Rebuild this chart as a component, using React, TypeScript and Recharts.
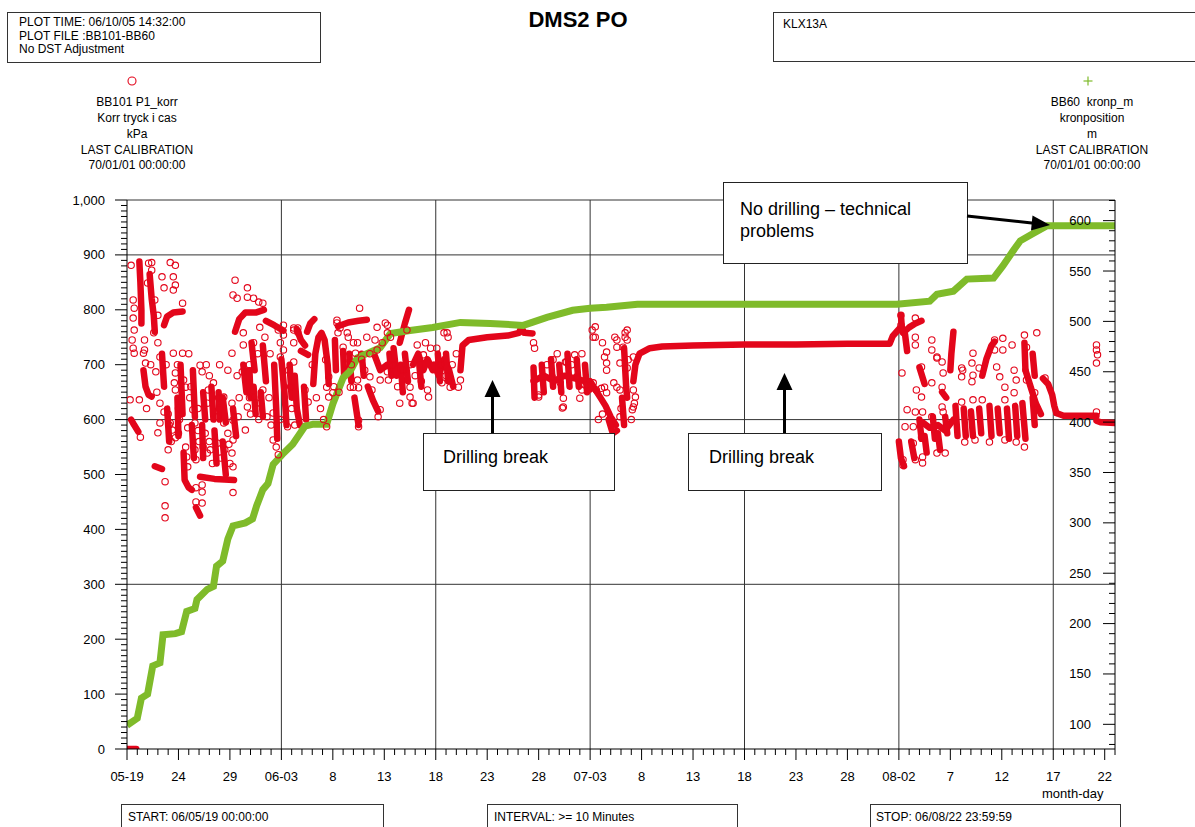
import React from "react";
import { ComposedChart, XAxis, YAxis, Line, Scatter, ReferenceLine } from "recharts";

const RED = "#E3061B";
const GREEN = "#7FBB2A";
const FONT = '"Liberation Sans", Arial, Helvetica, sans-serif';

// x = days since 05-19 00:00
const majorDays = [0, 5, 10, 15, 20, 25, 30, 35, 40, 45, 50, 55, 60, 65, 70, 75, 80, 85, 90, 95];
const dayLabels = ["05-19", "24", "29", "06-03", "8", "13", "18", "23", "28", "07-03", "8", "13", "18", "23", "28", "08-02", "7", "12", "17", "22"];
const dayTicks = Array.from({ length: 97 }, (_, i) => i);
const gridDays = [15, 30, 45, 60, 75, 90];

// left axis: BB101 pressure (kPa)
const leftTicks = Array.from({ length: 101 }, (_, i) => i * 10);
const gridKpa = [300, 600, 900, 1000];

// right axis: BB60 kronposition (m)
const rightTicks = Array.from({ length: 55 }, (_, i) => 80 + i * 10);

// BB101 P1_korr: dense runs of samples (day, kPa)
const pressureTracks: [number, number][][] = [
  [[0, 0], [0.9, 0]],
  [[1.2, 888], [1.3, 850], [1.4, 800], [1.4, 775]],
  [[0.4, 600], [0.7, 590], [1.1, 578]],
  [[1.6, 690], [1.8, 660], [2.1, 645], [2.4, 642]],
  [[2.2, 865], [2.4, 820], [2.6, 790], [2.7, 760]],
  [[3.4, 720], [3.6, 660]],
  [[2.7, 515], [3.4, 510]],
  [[3.6, 772], [3.9, 788], [4.5, 795], [5.4, 797]],
  [[3.9, 620], [4.1, 560]],
  [[4.9, 640], [5.0, 570]],
  [[5.2, 700], [5.4, 610]],
  [[6.4, 690], [6.6, 605]],
  [[6.3, 590], [6.5, 530]],
  [[5.5, 540], [5.6, 490], [6.0, 476], [6.3, 472]],
  [[6.7, 440], [7.1, 425]],
  [[7.4, 650], [7.6, 600]],
  [[7.3, 590], [7.4, 530]],
  [[7.1, 496], [8.5, 492], [10.4, 490]],
  [[8.2, 660], [8.4, 600]],
  [[8.5, 580], [8.7, 520]],
  [[8.9, 650], [9.0, 600]],
  [[9.3, 640], [9.6, 595]],
  [[9.3, 560], [9.6, 500]],
  [[10.3, 620], [10.6, 570]],
  [[10.5, 760], [10.9, 783], [11.5, 795], [12.5, 795], [13.3, 800]],
  [[11.3, 700], [11.6, 650]],
  [[11.9, 690], [12.0, 640]],
  [[12.1, 740], [12.4, 690]],
  [[12.3, 660], [12.5, 610]],
  [[13.0, 650], [13.2, 605]],
  [[13.2, 735], [13.5, 670]],
  [[13.5, 780], [14.3, 772], [15.2, 762]],
  [[14.3, 700], [14.5, 620], [14.6, 565]],
  [[15.0, 710], [15.3, 650], [15.5, 590]],
  [[15.8, 700], [16.0, 640]],
  [[16.3, 680], [16.5, 620], [16.8, 590]],
  [[17.2, 660], [17.4, 600]],
  [[17.5, 760], [17.8, 775], [18.2, 783]],
  [[16.5, 765], [16.9, 745], [17.3, 735]],
  [[16.9, 725], [17.6, 718]],
  [[18.1, 665], [18.3, 720], [18.6, 750], [18.9, 758], [19.2, 745], [19.5, 700], [19.6, 665]],
  [[20.2, 745], [20.3, 690]],
  [[21.0, 725], [21.1, 680]],
  [[21.6, 720], [21.8, 670]],
  [[20.5, 770], [21.5, 777], [22.5, 780], [23.3, 782]],
  [[22.1, 640], [22.5, 590]],
  [[22.8, 720], [23.0, 680]],
  [[23.4, 660], [23.9, 635], [24.4, 615]],
  [[24.0, 720], [24.6, 690], [25.3, 700]],
  [[25.5, 720], [25.7, 680]],
  [[26.5, 740], [27.0, 775], [27.4, 800]],
  [[25.9, 730], [26.2, 680]],
  [[26.6, 700], [26.8, 650]],
  [[27.0, 720], [27.3, 670]],
  [[27.8, 700], [28.3, 720], [28.8, 690], [29.2, 710], [29.7, 690]],
  [[28.4, 700], [28.6, 660]],
  [[29.8, 700], [30.3, 680], [30.8, 710], [31.3, 690], [31.7, 660]],
  [[30.2, 720], [30.4, 670]],
  [[31.0, 720], [31.2, 670]],
  [[32.4, 690], [32.6, 735], [33.2, 745], [35.0, 750], [37.0, 753], [38.1, 758], [38.3, 768], [38.6, 758], [39.4, 757]],
  [[39.5, 695], [39.6, 640]],
  [[40.3, 700], [40.5, 650]],
  [[41.2, 710], [41.4, 660]],
  [[42.0, 700], [42.2, 650]],
  [[42.8, 720], [43.0, 660]],
  [[43.7, 710], [43.9, 660]],
  [[44.5, 700], [44.7, 650]],
  [[39.5, 670], [40.5, 680], [41.5, 670], [42.5, 680], [43.5, 675], [44.5, 670], [45.0, 655]],
  [[45.0, 670], [45.5, 655], [46.0, 640], [46.5, 625], [47.0, 605], [47.5, 590]],
  [[46.8, 600], [47.2, 575], [47.6, 580]],
  [[48.3, 730], [48.5, 660], [48.6, 640]],
  [[48.1, 640], [48.3, 590]],
  [[49.2, 670], [49.4, 700], [49.8, 720], [50.8, 730], [52.0, 733], [55.0, 735], [60.0, 737], [65.0, 737], [70.0, 738], [74.1, 738], [74.4, 752], [75.0, 765]],
  [[75.4, 758], [76.0, 768], [76.6, 775], [77.2, 780]],
  [[75.2, 790], [75.3, 765]],
  [[75.6, 755], [75.8, 725]],
  [[75.0, 560], [75.2, 530], [75.5, 515]],
  [[76.2, 560], [76.5, 530]],
  [[77.0, 695], [77.5, 665]],
  [[79.2, 650], [79.6, 640]],
  [[80.0, 690], [80.1, 720], [80.3, 760]],
  [[83.1, 680], [83.5, 710], [84.0, 735], [84.3, 742]],
  [[87.2, 740], [87.3, 690]],
  [[88.0, 720], [88.2, 680]],
  [[87.3, 690], [87.8, 660], [88.3, 630], [88.8, 610]],
  [[89.0, 675], [89.5, 665], [89.9, 645], [90.1, 625], [90.3, 612]],
  [[90.3, 612], [91.0, 607], [93.0, 607], [94.2, 607]],
  [[94.2, 598], [94.6, 595], [96, 594]],
  [[77.3, 595], [78.0, 585], [78.8, 590], [79.5, 580], [80.3, 600]],
  [[77.0, 600], [77.2, 565]],
  [[77.5, 570], [77.7, 540]],
  [[78.3, 605], [78.5, 565]],
  [[78.8, 575], [79.0, 545]],
  [[79.5, 605], [79.7, 575]],
  [[80.5, 625], [80.7, 570]],
  [[81.3, 620], [81.5, 570]],
  [[82.0, 615], [82.2, 570]],
  [[82.8, 620], [83.0, 575]],
  [[83.8, 625], [84.0, 570]],
  [[84.6, 620], [84.8, 575]],
  [[85.5, 620], [85.7, 565]],
  [[86.3, 625], [86.5, 570]],
  [[87.0, 630], [87.3, 565]],
  [[88.0, 640], [88.2, 590]],
];

// BB101 P1_korr: isolated samples (day, kPa)
const pressurePoints: [number, number][] = [
  [0.4, 881], [0.6, 818], [0.7, 803], [0.6, 785], [0.7, 763], [0.5, 745], [0.6, 730], [0.7, 721], [0.3, 636], [1.2, 636],
  [1.3, 568], [1.6, 721], [1.8, 703], [1.7, 745], [1.7, 727], [2.0, 849], [2.1, 885], [2.4, 872], [2.4, 886], [2.7, 818],
  [3.0, 790], [2.6, 758], [3.0, 740], [3.2, 714], [2.8, 687], [3.2, 630], [3.6, 614], [3.2, 594], [3.0, 576], [3.4, 860],
  [3.6, 840], [4.2, 886], [4.7, 881], [4.5, 860], [4.7, 845], [4.5, 836], [4.5, 721], [4.7, 685], [4.6, 667], [4.7, 654],
  [4.2, 594], [4.4, 581], [4.7, 567], [5.4, 812], [5.4, 721], [5.5, 672], [5.7, 659], [5.9, 585], [5.7, 550], [5.8, 532],
  [5.9, 514], [6.4, 618], [6.6, 594], [6.6, 545], [6.7, 527], [7.1, 699], [7.3, 687], [7.9, 654], [7.8, 630], [7.4, 550],
  [7.8, 539], [8.4, 667], [8.8, 605], [8.8, 557], [9.4, 641], [9.4, 594], [9.5, 545], [10.2, 630], [10.3, 599], [10.3, 563],
  [10.2, 539], [10.3, 514], [10.3, 827], [10.7, 821], [11.7, 840], [11.7, 823], [12.3, 821], [12.8, 814], [13.2, 812], [10.5, 854],
  [10.2, 721], [11.3, 758], [11.3, 736], [11.2, 687], [11.7, 623], [11.5, 581], [12.3, 740], [12.3, 641], [12.9, 768], [13.4, 750],
  [13.2, 654], [13.6, 605], [14.2, 612], [14.7, 763], [14.2, 563], [14.5, 550], [14.7, 536], [3.7, 443], [3.7, 421], [3.7, 487],
  [6.7, 450], [7.3, 448], [7.3, 468], [7.3, 481], [10.3, 467], [6.7, 476],
  [4.0, 610], [4.1, 590], [4.3, 560], [4.0, 545], [5.0, 620], [5.1, 600], [5.0, 575], [6.1, 640], [6.9, 620], [6.9, 580],
  [7.0, 560], [7.6, 575], [8.0, 560], [8.1, 545], [8.3, 520], [8.9, 640], [9.0, 620], [9.1, 530], [9.8, 575], [9.9, 555],
  [10.0, 520], [10.8, 605], [10.9, 640], [11.9, 640], [12.0, 610], [12.6, 630], [12.8, 600], [13.8, 640], [14.0, 590], [14.9, 600],
  [1.9, 620], [2.3, 700], [2.9, 650], [3.8, 700], [4.9, 700], [6.0, 720], [6.2, 660], [7.7, 700], [8.0, 680], [9.0, 700],
  [9.8, 690], [10.7, 680], [11.9, 700], [12.7, 720], [13.9, 720], [14.9, 740],
  [22.6, 803], [15.2, 772], [15.2, 754], [16.2, 763], [16.6, 759], [16.2, 740], [15.2, 727], [16.2, 705], [17.3, 654], [17.6, 632],
  [16.3, 590], [15.6, 587], [20.4, 776], [20.7, 767], [20.5, 758], [21.4, 758], [21.5, 750], [22.4, 740], [22.2, 721], [19.3, 709],
  [19.6, 678], [19.4, 659], [19.6, 641], [19.4, 587], [22.5, 658], [22.5, 599], [22.5, 587], [22.4, 672], [21.7, 659], [23.6, 678],
  [23.8, 654], [24.6, 672], [24.4, 605], [24.6, 618], [24.3, 768], [25.3, 772], [25.3, 758], [25.6, 750], [25.3, 687], [25.4, 672],
  [28.2, 736], [28.8, 718], [29.2, 654], [29.3, 641], [27.5, 659], [27.5, 641], [27.7, 630], [31.1, 758], [31.2, 750], [30.6, 667],
  [31.4, 659], [32.4, 672], [32.2, 659], [14.9, 714], [16.2, 767], [16.6, 767], [20.0, 649], [20.4, 781], [21.0, 732], [21.4, 714],
  [22.0, 740], [22.0, 659], [23.3, 750], [24.3, 727], [25.1, 776], [26.5, 630], [27.2, 763], [27.8, 630], [30.8, 758],
  [15.7, 690], [15.9, 660], [16.0, 620], [18.0, 700], [18.4, 640], [18.8, 620], [19.1, 600], [20.1, 660], [20.6, 650], [21.2, 700],
  [21.8, 700], [22.8, 710], [23.1, 690], [23.6, 720], [24.1, 745], [24.8, 740], [25.8, 700], [26.3, 660], [26.8, 690], [27.5, 700],
  [28.0, 680], [28.6, 670], [29.0, 740], [29.5, 730], [30.1, 730], [30.5, 700], [31.0, 680], [31.6, 700], [32.0, 720],
  [39.5, 740], [39.6, 730], [40.0, 645], [41.4, 709], [42.6, 705], [42.1, 667], [42.4, 639], [42.3, 621], [43.5, 718], [45.2, 763],
  [45.5, 769], [45.3, 750], [45.3, 667], [45.6, 654], [46.2, 740], [46.4, 714], [46.6, 690], [46.4, 659], [46.6, 649], [47.4, 750],
  [47.6, 732], [48.4, 758], [48.6, 745], [48.6, 763], [47.9, 703], [47.3, 667], [47.9, 654], [49.3, 630], [49.1, 618], [49.2, 714],
  [47.9, 605], [48.2, 732], [42.4, 623], [40.0, 641], [42.7, 705], [41.3, 678], [46.6, 723], [46.6, 703], [46.1, 657], [47.6, 659],
  [47.6, 745], [48.4, 750], [48.7, 709], [48.6, 694], [49.2, 654], [49.4, 641], [49.2, 623], [43.7, 678], [44.2, 654], [44.0, 639],
  [45.5, 750], [44.5, 663], [40.8, 700], [41.8, 720], [43.2, 700], [44.2, 720], [45.8, 600], [46.2, 610], [48.0, 620], [49.0, 600],
  [75.2, 790], [75.2, 772], [76.6, 785], [76.6, 750], [76.6, 736], [75.3, 685], [77.2, 696], [76.7, 654], [77.2, 641], [78.2, 667],
  [78.2, 745], [78.2, 727], [78.7, 712], [79.2, 705], [79.2, 623], [79.2, 659], [79.3, 685], [81.1, 694], [81.1, 678], [82.2, 721],
  [82.1, 703], [82.2, 681], [82.1, 669], [82.8, 694], [85.1, 748], [85.1, 727], [84.3, 745], [84.3, 727], [84.5, 696], [84.8, 678],
  [85.3, 659], [86.0, 736], [86.2, 690], [86.4, 672], [87.2, 754], [87.4, 672], [88.4, 758], [88.2, 649], [88.2, 618], [89.2, 676],
  [94.2, 614], [94.2, 736], [94.2, 727], [94.3, 718], [94.2, 703], [75.6, 587], [76.4, 587], [76.4, 557], [77.2, 568], [77.3, 532],
  [78.7, 539], [79.5, 539], [76.6, 527], [75.4, 527], [75.4, 517], [77.3, 521], [82.4, 563], [85.3, 563], [87.2, 550], [86.4, 559],
  [81.4, 559], [83.8, 559], [75.8, 618], [77.3, 614], [79.3, 614], [82.2, 636], [85.3, 636], [88.4, 621], [86.2, 649], [83.1, 636],
  [81.1, 632], [78.2, 605], [76.6, 614], [78.7, 714], [81.2, 690], [87.4, 732],
];

// BB60 kronp_m: crown position (day, m)
const crownPosition: [number, number][] = [
  [0, 99], [1.0, 106], [1.4, 126], [2.0, 130], [2.5, 158], [3.2, 161], [3.5, 189], [4.7, 190], [5.3, 192], [5.8, 212],
  [6.6, 215], [6.8, 224], [7.8, 234], [8.4, 237], [8.7, 257], [9.3, 262], [9.8, 284], [10.3, 297], [11.5, 300], [12.2, 304],
  [12.6, 317], [13.2, 333], [13.7, 339], [14.2, 358], [15.1, 368], [16.1, 378], [17.3, 396], [18.1, 398], [19.4, 398], [20.0, 418],
  [21.0, 444], [21.7, 451], [22.4, 464], [23.3, 468], [24.6, 474], [25.6, 488], [27.5, 491], [29.7, 494], [32.4, 499], [35.3, 498],
  [38.5, 496], [40.8, 504], [43.3, 511], [45.0, 513], [46.6, 514], [49.6, 517], [74.8, 517], [78.0, 520], [78.7, 527], [80.3, 530],
  [81.6, 542], [84.2, 543], [85.1, 555], [86.1, 570], [86.8, 580], [88.0, 587], [89.4, 595], [96, 595],
];

const TICK_LONG = 12;
const TICK_SHORT = 6;

function DayTick(props: any) {
  const { x, y, payload } = props;
  const i = majorDays.indexOf(payload.value);
  const top = y - 19;
  return (
    <g>
      <line x1={x} x2={x} y1={top} y2={top + (i >= 0 ? 11 : 6)} stroke="#000" />
      {i >= 0 && (
        <text x={x} y={y} dy={12.5} textAnchor="middle" fontSize={13} fontFamily={FONT} fill="#000">
          {dayLabels[i]}
        </text>
      )}
    </g>
  );
}

function LeftTick(props: any) {
  const { x, y, payload } = props;
  const v = payload.value;
  const major = v % 100 === 0;
  const ax = x + 22;
  return (
    <g>
      <line x1={ax - (major ? TICK_LONG : TICK_SHORT)} x2={ax} y1={y} y2={y} stroke="#000" />
      {major && (
        <text x={x} y={y} dy={4.5} textAnchor="end" fontSize={13} fontFamily={FONT} fill="#000">
          {v.toLocaleString("en-US")}
        </text>
      )}
    </g>
  );
}

function RightTick(props: any) {
  const { x, y, payload } = props;
  const v = payload.value;
  const major = v % 50 === 0;
  const ax = x + 24;
  return (
    <g>
      <line x1={ax - (major ? TICK_LONG : TICK_SHORT)} x2={ax} y1={y} y2={y} stroke="#000" />
      {major && (
        <text x={x} y={y} dy={4.5} textAnchor="end" fontSize={13} fontFamily={FONT} fill="#000">
          {v}
        </text>
      )}
    </g>
  );
}

const Ring = (props: any) => (
  <circle cx={props.cx} cy={props.cy} r={3.2} fill="none" stroke={RED} strokeWidth={1.1} />
);

const box: React.CSSProperties = {
  position: "absolute",
  boxSizing: "border-box",
  border: "1px solid #333",
  background: "#fff",
  fontSize: 12,
  lineHeight: "13.6px",
  whiteSpace: "pre",
};

const note: React.CSSProperties = {
  ...box,
  border: "1px solid #222",
  fontSize: 18,
  lineHeight: "22px",
};

export default function App() {
  const points = pressurePoints.map(([d, p]) => ({ d, p }));
  const crown = crownPosition.map(([d, v]) => ({ d, v }));
  return (
    <div
      style={{
        position: "absolute",
        left: 0,
        top: 0,
        width: 1195,
        height: 827,
        overflow: "hidden",
        background: "#fff",
        fontFamily: FONT,
        color: "#000",
      }}
    >
      <ComposedChart width={1195} height={827} margin={{ top: 200, right: 80, bottom: 48, left: 67 }}>
        <XAxis
          type="number"
          dataKey="d"
          domain={[0, 96]}
          ticks={dayTicks}
          interval={0}
          tickSize={11}
          tickMargin={8}
          tickLine={false}
          axisLine={{ stroke: "#000" }}
          tick={DayTick}
          height={30}
          allowDataOverflow
        />
        <YAxis
          yAxisId="left"
          type="number"
          dataKey="p"
          domain={[0, 1000]}
          ticks={leftTicks}
          interval={0}
          tickSize={12}
          tickMargin={10}
          tickLine={false}
          axisLine={{ stroke: "#000" }}
          tick={LeftTick}
          width={60}
          allowDataOverflow
        />
        <YAxis
          yAxisId="right"
          orientation="right"
          mirror
          type="number"
          dataKey="v"
          domain={[75.5, 620.5]}
          ticks={rightTicks}
          interval={0}
          tickSize={12}
          tickMargin={12}
          tickLine={false}
          axisLine={{ stroke: "#000" }}
          tick={RightTick}
          allowDataOverflow
        />
        {gridKpa.map((k) => (
          <ReferenceLine key={"h" + k} yAxisId="left" y={k} stroke="#333" strokeWidth={1} />
        ))}
        {gridDays.map((d) => (
          <ReferenceLine key={"v" + d} yAxisId="left" x={d} stroke="#333" strokeWidth={1} />
        ))}
        {pressureTracks.map((t, i) => (
          <Line
            key={"t" + i}
            yAxisId="left"
            data={t.map(([d, p]) => ({ d, p }))}
            dataKey="p"
            type="linear"
            stroke={RED}
            strokeWidth={6.5}
            strokeLinecap="round"
            strokeLinejoin="round"
            dot={false}
            activeDot={false}
            isAnimationActive={false}
          />
        ))}
        <Scatter yAxisId="left" data={points} dataKey="p" shape={Ring} isAnimationActive={false} />
        <Line
          yAxisId="right"
          data={crown}
          dataKey="v"
          type="linear"
          stroke={GREEN}
          strokeWidth={7}
          strokeLinejoin="miter"
          dot={false}
          activeDot={false}
          isAnimationActive={false}
        />
      </ComposedChart>

      {/* header */}
      <div style={{ ...box, left: 7, top: 12, width: 314, height: 51, padding: "3px 0 0 11px" }}>
        {"PLOT TIME: 06/10/05 14:32:00\nPLOT FILE :BB101-BB60\nNo DST Adjustment"}
      </div>
      <div style={{ position: "absolute", left: 478, top: 7, width: 200, textAlign: "center", fontWeight: "bold", fontSize: 22 }}>
        DMS2 PO
      </div>
      <div style={{ ...box, left: 773, top: 12, width: 440, height: 50, padding: "5px 0 0 9px" }}>KLX13A</div>

      {/* series legends */}
      <div style={{ position: "absolute", left: 37, top: 95, width: 200, textAlign: "center", fontSize: 12, lineHeight: "15.85px" }}>
        {["BB101 P1_korr", "Korr tryck i cas", "kPa", "LAST CALIBRATION", "70/01/01 00:00:00"].map((s) => (
          <div key={s}>{s}</div>
        ))}
      </div>
      <div style={{ position: "absolute", left: 992, top: 95, width: 200, textAlign: "center", fontSize: 12, lineHeight: "15.85px", whiteSpace: "pre" }}>
        {["BB60  kronp_m", "kronposition", "m", "LAST CALIBRATION", "70/01/01 00:00:00"].map((s) => (
          <div key={s}>{s}</div>
        ))}
      </div>

      <div style={{ position: "absolute", left: 1042, top: 786, fontSize: 13 }}>month-day</div>

      {/* footer */}
      <div style={{ ...box, left: 121, top: 804, width: 263, height: 40, padding: "6px 0 0 6px" }}>START: 06/05/19 00:00:00</div>
      <div style={{ ...box, left: 487, top: 804, width: 251, height: 40, padding: "6px 0 0 6px" }}>{"INTERVAL: >= 10 Minutes"}</div>
      <div style={{ ...box, left: 870, top: 804, width: 251, height: 40, padding: "6px 0 0 5px" }}>STOP: 06/08/22 23:59:59</div>

      {/* annotations */}
      <div style={{ ...note, left: 723, top: 182, width: 245, height: 82, padding: "15px 0 0 16px" }}>
        {"No drilling \u2013 technical\nproblems"}
      </div>
      <div style={{ ...note, left: 423, top: 433, width: 192, height: 58, padding: "12px 0 0 19px" }}>Drilling break</div>
      <div style={{ ...note, left: 688, top: 433, width: 194, height: 58, padding: "12px 0 0 20px" }}>Drilling break</div>

      <svg width={1195} height={827} style={{ position: "absolute", left: 0, top: 0, pointerEvents: "none" }}>
        <circle cx={132} cy={81} r={4} fill="none" stroke={RED} strokeWidth={1.1} />
        <line x1={1083.5} x2={1092.5} y1={81} y2={81} stroke={GREEN} strokeWidth={1.2} />
        <line x1={1088} x2={1088} y1={76.5} y2={85.5} stroke={GREEN} strokeWidth={1.2} />
        <line x1={492.5} x2={492.5} y1={433} y2={396} stroke="#000" strokeWidth={3} />
        <polygon points="484.5,397 500.5,397 492.5,380" fill="#000" />
        <line x1={784.5} x2={784.5} y1={433} y2={389} stroke="#000" strokeWidth={3} />
        <polygon points="776.5,390 792.5,390 784.5,373" fill="#000" />
        <line x1={967} x2={1034} y1={216} y2={223.3} stroke="#000" strokeWidth={3} />
        <polygon points="1050,225 1032.5,215.5 1031,230.5" fill="#000" />
      </svg>
    </div>
  );
}
